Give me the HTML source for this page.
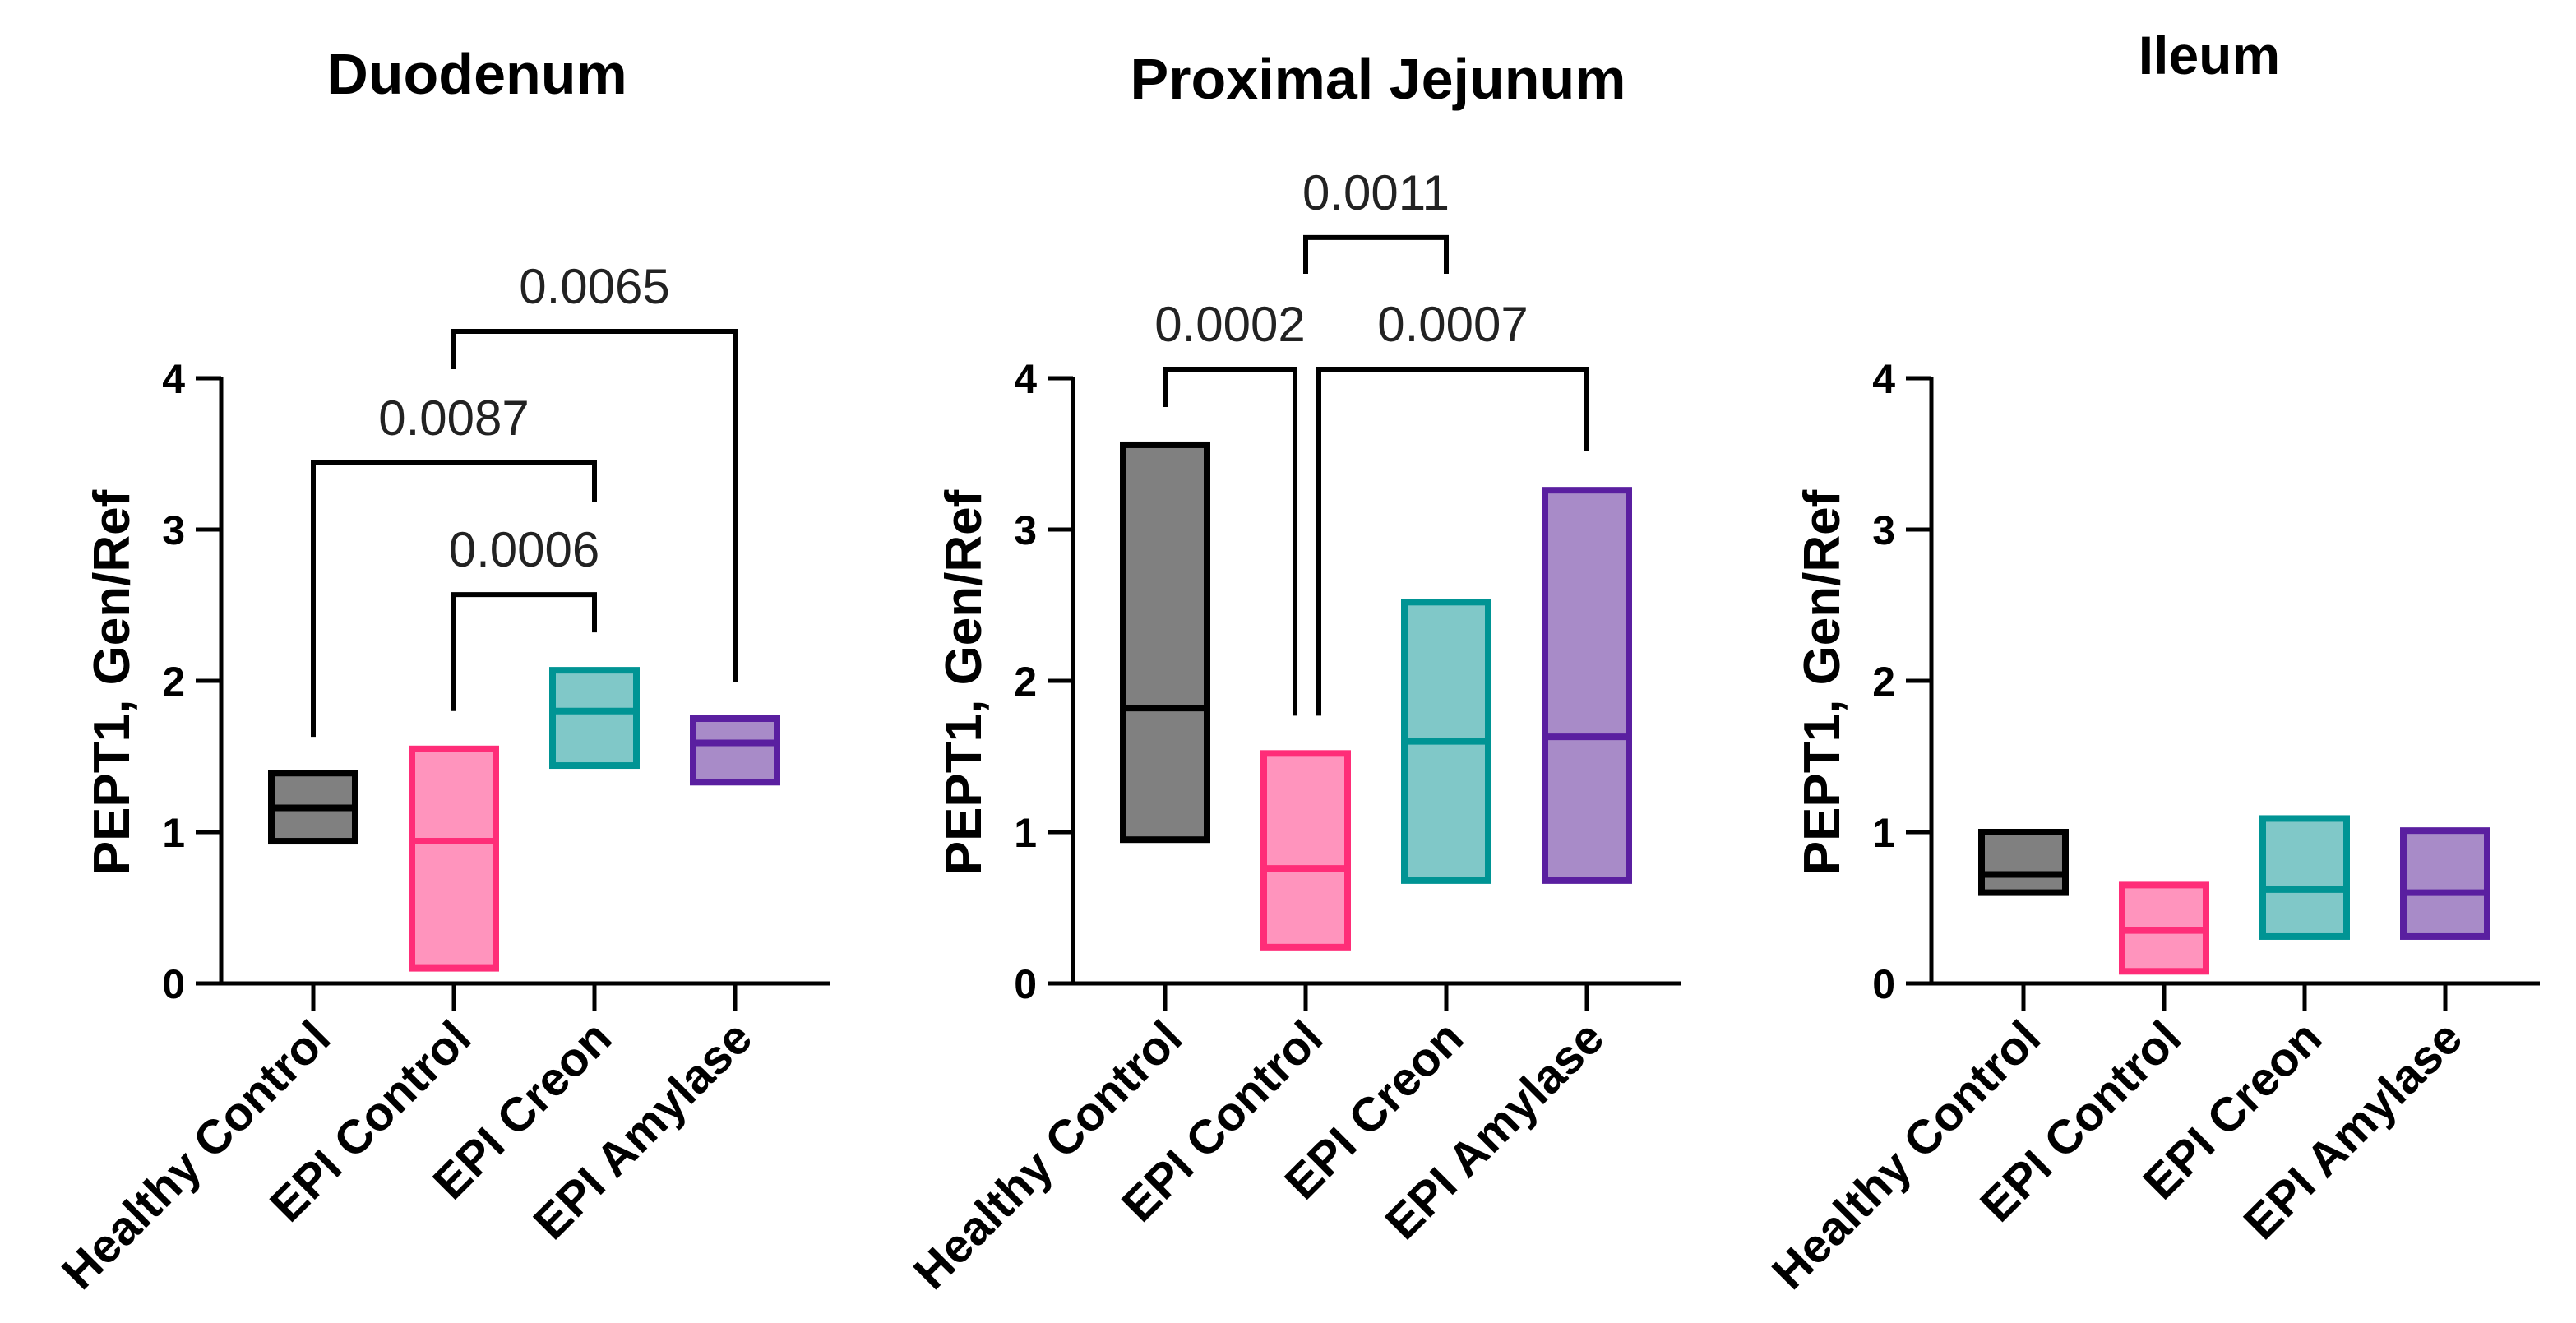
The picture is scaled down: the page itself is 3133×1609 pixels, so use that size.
<!DOCTYPE html>
<html><head><meta charset="utf-8"><style>
html,body{margin:0;padding:0;background:#fff;}
svg{display:block;font-family:"Liberation Sans",Arial,sans-serif;}
</style></head><body>
<svg id="chart" width="3133" height="1609" viewBox="0 0 3133 1609" xmlns="http://www.w3.org/2000/svg"></svg>
<script>
const categories = ["Healthy Control","EPI Control","EPI Creon","EPI Amylase"];
const panelTitles = ["Duodenum","Proximal Jejunum","Ileum"];
const yTicks = [0,1,2,3,4];
const duoTop = [1.39,1.55,2.07,1.75];
const duoMed = [1.16,0.94,1.80,1.59];
const duoBot = [0.94,0.10,1.44,1.33];
const jejTop = [3.56,1.52,2.52,3.26];
const jejMed = [1.82,0.76,1.60,1.63];
const jejBot = [0.95,0.24,0.68,0.68];
const ileTop = [1.00,0.65,1.09,1.01];
const ileMed = [0.72,0.35,0.62,0.60];
const ileBot = [0.60,0.08,0.31,0.31];
const duoBrFrom = [1,0,1];
const duoBrTo = [3,2,2];
const duoBrLevel = [4.31,3.44,2.57];
const duoBrDropL = [4.06,1.63,1.80];
const duoBrDropR = [1.99,3.18,2.32];
const duoBrLabel = ["0.0065","0.0087","0.0006"];
const jejBrFrom = [0,1,1];
const jejBrTo = [1,3,2];
const jejBrLevel = [4.06,4.06,4.93];
const jejBrDropL = [3.81,1.77,4.69];
const jejBrDropR = [1.77,3.52,4.69];
const jejBrLabel = ["0.0002","0.0007","0.0011"];

const NS="http://www.w3.org/2000/svg";
const svg=document.getElementById('chart');
function mk(tag,attrs,parent){const e=document.createElementNS(NS,tag);for(const k in attrs)e.setAttribute(k,attrs[k]);(parent||svg).appendChild(e);return e;}
const Y0=1196, UNIT=184;
function yS(v){return Y0-v*UNIT;}
const fills=["#808080","#ff94bd","#80c8c8","#a88bc8"];
const strokes=["#000000","#ff2d78","#009494","#5a1fa0"];
const panels=[
 {axis:269,title:panelTitles[0],tx:580,ty:114,ts:70,top:duoTop,med:duoMed,bot:duoBot,
  br:{f:duoBrFrom,t:duoBrTo,l:duoBrLevel,dl:duoBrDropL,dr:duoBrDropR,lab:duoBrLabel},dxL:[0,0,0],dxR:[0,0,0]},
 {axis:1305,title:panelTitles[1],tx:1676,ty:120,ts:70,top:jejTop,med:jejMed,bot:jejBot,
  br:{f:jejBrFrom,t:jejBrTo,l:jejBrLevel,dl:jejBrDropL,dr:jejBrDropR,lab:jejBrLabel},dxL:[0,16,0],dxR:[-13,0,0]},
 {axis:2349,title:panelTitles[2],tx:2687,ty:90,ts:66,top:ileTop,med:ileMed,bot:ileBot,br:null}
];
panels.forEach((p,pi)=>{
  const g=mk('g',{});
  
  
  const xS=i=>p.axis+112+i*171;
  const t=mk('text',{x:p.tx,y:p.ty,'text-anchor':'middle','font-size':p.ts,'font-weight':'bold',fill:'#000'},g);
  t.textContent=p.title;
  
  
  const ya=mk('line',{x1:p.axis,y1:yS(4)-2,x2:p.axis,y2:Y0+2,stroke:'#000','stroke-width':5},g);
  
  
  yTicks.forEach(v=>{
    const tk=mk('line',{x1:p.axis-31,y1:yS(v),x2:p.axis,y2:yS(v),stroke:'#000','stroke-width':5},g);
    
    
    const tl=mk('text',{x:p.axis-44,y:yS(v)+18,'text-anchor':'end','font-size':50,'font-weight':'bold'},g);
    tl.textContent=v;
    
    
  });
  const xa=mk('line',{x1:p.axis-31,y1:Y0,x2:p.axis+740,y2:Y0,stroke:'#000','stroke-width':5},g);
  
  
  const yt=mk('text',{x:0,y:0,'text-anchor':'middle','font-size':62,'font-weight':'bold',transform:`translate(${p.axis-112},830) rotate(-90)`},g);
  yt.textContent='PEPT1, Gen/Ref';
  
  
  categories.forEach((c,i)=>{
    const x=xS(i);
    const tk=mk('line',{x1:x,y1:Y0,x2:x,y2:Y0+34,stroke:'#000','stroke-width':5},g);
    
    
    const cl=mk('text',{x:0,y:0,'text-anchor':'end','font-size':58,'font-weight':'bold',transform:`translate(${x+24},${Y0+70}) rotate(-45)`},g);
    cl.textContent=c;
    
    
    const yt1=yS(p.top[i]), yb=yS(p.bot[i]);
    const r=mk('rect',{x:x-51,y:yt1,width:102,height:yb-yt1,fill:fills[i],stroke:strokes[i],'stroke-width':8},g);
    
    
    const m=mk('line',{x1:x-51,y1:yS(p.med[i]),x2:x+51,y2:yS(p.med[i]),stroke:strokes[i],'stroke-width':8},g);
    
    
  });
  if(p.br){
    p.br.f.forEach((f,k)=>{
      const xl=xS(f)+p.dxL[k], xr=xS(p.br.t[k])+p.dxR[k], yl=yS(p.br.l[k]);
      const pl=mk('polyline',{points:`${xl},${yS(p.br.dl[k])} ${xl},${yl} ${xr},${yl} ${xr},${yS(p.br.dr[k])}`,fill:'none',stroke:'#000','stroke-width':6},g);
      
      
      const lt=mk('text',{x:(xl+xr)/2,y:yl-34,'text-anchor':'middle','font-size':60,fill:'#222'},g);
      lt.textContent=p.br.lab[k];
      
      
    });
  }
});
</script>
</body></html>
